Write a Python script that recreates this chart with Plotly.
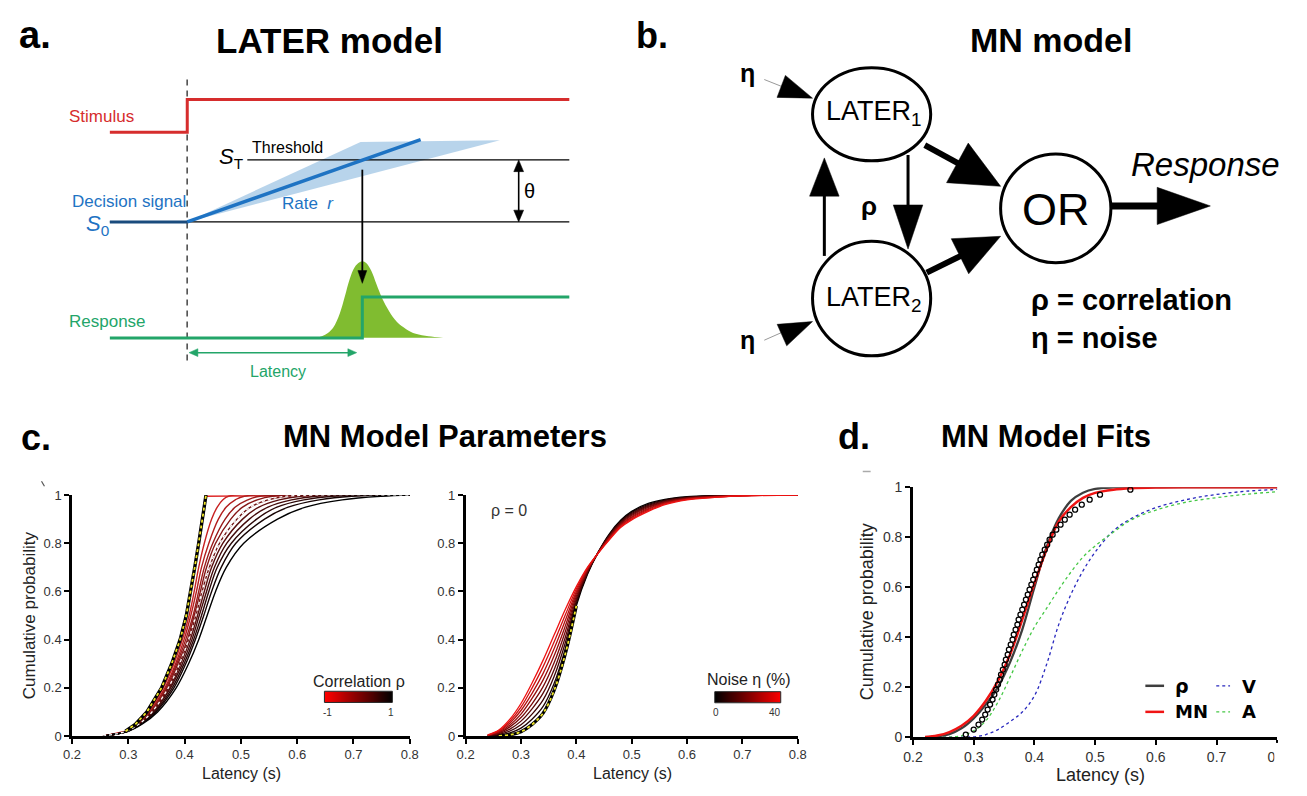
import math
import plotly.graph_objects as go

W, H = 1307, 796
FONT = "Liberation Sans, Arial, sans-serif"
LEGFONT = "DejaVu Sans, Verdana, sans-serif"

# ---------------- data: panel c (left) correlation sweep ----------------
rho_values = [-1.0, -0.8, -0.6, -0.4, -0.2, 0.0, 0.2, 0.4, 0.6, 0.8, 1.0]
cdf_levels = [0, 0.02, 0.05, 0.1, 0.2, 0.3, 0.4, 0.5, 0.6, 0.7, 0.8, 0.9, 0.95, 0.98, 0.995]
lat_rho = [
    [0.255, 0.295, 0.313, 0.333, 0.359, 0.377, 0.392, 0.403, 0.411, 0.418, 0.425, 0.431, 0.434, 0.436, 0.437],
    [0.255, 0.296, 0.315, 0.335, 0.362, 0.381, 0.396, 0.408, 0.417, 0.425, 0.435, 0.448, 0.458, 0.468, 0.478],
    [0.255, 0.296, 0.316, 0.337, 0.365, 0.384, 0.399, 0.411, 0.421, 0.430, 0.443, 0.460, 0.474, 0.490, 0.506],
    [0.255, 0.297, 0.317, 0.339, 0.367, 0.386, 0.402, 0.415, 0.425, 0.435, 0.450, 0.472, 0.490, 0.512, 0.534],
    [0.255, 0.297, 0.318, 0.340, 0.369, 0.388, 0.405, 0.417, 0.428, 0.439, 0.455, 0.482, 0.503, 0.529, 0.556],
    [0.255, 0.297, 0.319, 0.342, 0.371, 0.391, 0.407, 0.420, 0.431, 0.444, 0.462, 0.493, 0.517, 0.548, 0.581],
    [0.255, 0.298, 0.320, 0.343, 0.373, 0.393, 0.410, 0.423, 0.435, 0.448, 0.468, 0.503, 0.532, 0.568, 0.606],
    [0.255, 0.298, 0.321, 0.345, 0.375, 0.396, 0.413, 0.426, 0.439, 0.453, 0.475, 0.515, 0.548, 0.590, 0.634],
    [0.255, 0.299, 0.322, 0.347, 0.378, 0.399, 0.416, 0.430, 0.443, 0.458, 0.483, 0.528, 0.564, 0.612, 0.662],
    [0.255, 0.299, 0.323, 0.349, 0.381, 0.402, 0.419, 0.434, 0.448, 0.465, 0.491, 0.542, 0.584, 0.639, 0.697],
    [0.255, 0.300, 0.325, 0.352, 0.385, 0.407, 0.425, 0.440, 0.455, 0.474, 0.505, 0.565, 0.615, 0.680, 0.750],
]
lat_end = 0.8

# ---------------- data: panel c (right) noise sweep ----------------
noise_values = [0, 5, 10, 15, 20, 25, 30, 35, 40]
lat_grid = [0.24, 0.26, 0.28, 0.30, 0.32, 0.34, 0.36, 0.38, 0.40, 0.42,
            0.44, 0.46, 0.48, 0.50, 0.53, 0.56, 0.60, 0.65, 0.70, 0.80]
cdf_noise = [
    [0.000, 0.001, 0.005, 0.018, 0.048, 0.095, 0.190, 0.340, 0.540, 0.670, 0.765, 0.840, 0.895, 0.932, 0.965, 0.982, 0.993, 0.998, 1.000, 1.0],
    [0.001, 0.004, 0.013, 0.033, 0.070, 0.123, 0.219, 0.363, 0.550, 0.674, 0.764, 0.837, 0.891, 0.928, 0.961, 0.979, 0.991, 0.997, 1.000, 1.0],
    [0.001, 0.007, 0.021, 0.047, 0.091, 0.150, 0.248, 0.386, 0.560, 0.678, 0.764, 0.834, 0.888, 0.923, 0.957, 0.977, 0.990, 0.996, 0.999, 1.0],
    [0.002, 0.010, 0.029, 0.062, 0.113, 0.178, 0.276, 0.409, 0.570, 0.681, 0.763, 0.831, 0.884, 0.919, 0.953, 0.974, 0.988, 0.995, 0.999, 1.0],
    [0.003, 0.013, 0.038, 0.077, 0.134, 0.205, 0.305, 0.433, 0.580, 0.685, 0.763, 0.828, 0.880, 0.915, 0.949, 0.971, 0.987, 0.994, 0.998, 1.0],
    [0.003, 0.016, 0.046, 0.091, 0.156, 0.233, 0.334, 0.456, 0.590, 0.689, 0.762, 0.824, 0.876, 0.910, 0.944, 0.968, 0.985, 0.993, 0.998, 1.0],
    [0.004, 0.019, 0.054, 0.106, 0.177, 0.260, 0.363, 0.479, 0.600, 0.693, 0.761, 0.821, 0.873, 0.906, 0.940, 0.966, 0.983, 0.992, 0.997, 1.0],
    [0.004, 0.022, 0.062, 0.120, 0.199, 0.288, 0.391, 0.502, 0.610, 0.696, 0.761, 0.818, 0.869, 0.901, 0.936, 0.963, 0.982, 0.991, 0.997, 1.0],
    [0.005, 0.025, 0.070, 0.135, 0.220, 0.315, 0.420, 0.525, 0.620, 0.700, 0.760, 0.815, 0.865, 0.897, 0.932, 0.960, 0.980, 0.990, 0.996, 1.0],
]

# ---------------- data: panel d fits ----------------
fit_lat = [0.22, 0.24, 0.26, 0.28, 0.30, 0.32, 0.34, 0.36, 0.38, 0.40, 0.42,
           0.44, 0.46, 0.48, 0.50, 0.53, 0.56, 0.60, 0.65, 0.70, 0.75, 0.80]
rho_fit = [0.0, 0.003, 0.012, 0.035, 0.075, 0.130, 0.200, 0.300, 0.430, 0.600, 0.760,
           0.875, 0.945, 0.978, 0.993, 0.999, 1.0, 1.0, 1.0, 1.0, 1.0, 1.0]
mn_fit = [0.0, 0.006, 0.020, 0.045, 0.085, 0.145, 0.225, 0.330, 0.470, 0.615, 0.750,
          0.862, 0.920, 0.957, 0.977, 0.990, 0.996, 0.999, 1.0, 1.0, 1.0, 1.0]
v_fit = [0.0, 0.0, 0.0, 0.0, 0.001, 0.010, 0.030, 0.062, 0.100, 0.165, 0.290,
         0.450, 0.570, 0.665, 0.740, 0.825, 0.875, 0.918, 0.950, 0.971, 0.984, 0.991]
a_fit = [0.0, 0.0, 0.0, 0.005, 0.025, 0.065, 0.140, 0.240, 0.345, 0.440, 0.515,
         0.590, 0.660, 0.720, 0.765, 0.820, 0.870, 0.908, 0.940, 0.958, 0.972, 0.982]
obs_cdf = [0.01, 0.03, 0.05, 0.07, 0.09, 0.11, 0.13, 0.15, 0.17, 0.19, 0.21, 0.23, 0.25,
           0.27, 0.29, 0.31, 0.33, 0.35, 0.37, 0.39, 0.41, 0.43, 0.45, 0.47, 0.49, 0.51,
           0.53, 0.55, 0.57, 0.59, 0.61, 0.63, 0.65, 0.67, 0.69, 0.71, 0.73, 0.75, 0.77,
           0.79, 0.81, 0.83, 0.85, 0.87, 0.89, 0.91, 0.93, 0.95, 0.97, 0.99]
obs_lat = [0.287, 0.300, 0.308, 0.314, 0.319, 0.323, 0.327, 0.331, 0.334, 0.337, 0.340,
           0.343, 0.345, 0.348, 0.351, 0.353, 0.356, 0.358, 0.361, 0.364, 0.366, 0.369,
           0.372, 0.374, 0.377, 0.380, 0.383, 0.386, 0.389, 0.392, 0.395, 0.398, 0.401,
           0.404, 0.407, 0.410, 0.413, 0.417, 0.421, 0.425, 0.430, 0.436, 0.443, 0.450,
           0.458, 0.467, 0.478, 0.491, 0.508, 0.558]

x_ticks = [0.2, 0.3, 0.4, 0.5, 0.6, 0.7, 0.8]
x_ticktext = ["0.2", "0.3", "0.4", "0.5", "0.6", "0.7", "0.8"]
y_ticks = [0, 0.2, 0.4, 0.6, 0.8, 1.0]
y_ticktext = ["0", "0.2", "0.4", "0.6", "0.8", "1"]

# ---------------- helpers ----------------
def dom_x(a, b):
    return [a / W, b / W]

def dom_y(top, bottom):
    return [1 - bottom / H, 1 - top / H]

shapes = []
annotations = []

def seg(x0, y0, x1, y1, color="black", width=1.5, dash=None):
    ln = dict(color=color, width=width)
    if dash:
        ln["dash"] = dash
    shapes.append(dict(type="line", xref="x", yref="y", x0=x0, y0=y0, x1=x1, y1=y1, line=ln))

def poly(pts, color, close=True, width=0.5, fill=True):
    path = "M " + " L ".join(f"{x:.2f},{y:.2f}" for x, y in pts) + (" Z" if close else "")
    d = dict(type="path", xref="x", yref="y", path=path, line=dict(color=color, width=width))
    if fill:
        d["fillcolor"] = color
    shapes.append(d)

def head(tail, tip, head_len, head_hw, color="black"):
    dx, dy = tip[0] - tail[0], tip[1] - tail[1]
    L = math.hypot(dx, dy)
    ux, uy = dx / L, dy / L
    bx, by = tip[0] - ux * head_len, tip[1] - uy * head_len
    nx, ny = -uy, ux
    poly([tip, (bx + nx * head_hw, by + ny * head_hw), (bx - nx * head_hw, by - ny * head_hw)], color)
    return bx + ux, by + uy

def arrow(tail, tip, width, head_len, head_hw, color="black"):
    bx, by = head(tail, tip, head_len, head_hw, color)
    seg(tail[0], tail[1], bx, by, color, width)

def text(x, y, s, size, color="black", bold=False, family=FONT, xanchor="center", angle=0):
    if bold:
        s = f"<b>{s}</b>"
    annotations.append(dict(xref="x", yref="y", x=x, y=y, text=s, showarrow=False,
                            font=dict(family=family, size=size, color=color),
                            xanchor=xanchor, yanchor="middle", textangle=angle))

fig = go.Figure()

# ---------------- panel a: LATER diagram ----------------
RED = "rgb(214,45,45)"
BLUE = "rgb(30,115,195)"
LBLUE = "rgba(172,205,232,0.85)"
GREEN = "rgb(35,165,105)"
BELL = "rgb(128,188,48)"

fig.add_trace(go.Scatter(x=[180, 356, 497.5, 180], y=[218.3, 136.7, 135, 218.3], mode="lines",
                         fill="toself", fillcolor=LBLUE, line=dict(width=0), hoverinfo="skip",
                         xaxis="x", yaxis="y"))
bell_x = [312, 320, 328, 335, 340, 345, 350, 355, 358, 362, 367, 372, 378, 385, 393, 402, 412, 425, 440]
bell_h = [0, 3, 10, 25, 42, 60, 72, 77, 78, 76, 68, 55, 40, 27, 16, 9, 4, 1.5, 0]
fig.add_trace(go.Scatter(x=bell_x, y=[336.5 - h for h in bell_h], mode="lines", line=dict(width=0, shape="spline"),
                         fill="toself", fillcolor=BELL, hoverinfo="skip", xaxis="x", yaxis="y"))

seg(179.9, 73, 179.9, 362, "#444", 1.5, "6px,5px")
poly([(101.4, 126.7), (180, 126.7), (180, 93.3), (568, 93.3)], RED, close=False, width=3, fill=False)
seg(241, 155, 568, 155, "black", 1.2)
seg(101.4, 218.3, 568, 218.3, "black", 1.2)
seg(101.4, 218.3, 180, 218.3, "rgb(25,75,125)", 3)
seg(180, 218.3, 417, 134.3, BLUE, 3.5)
arrow((357.8, 165), (357.8, 281), 1.8, 13, 4.5)
bx, by = head((516.6, 190), (516.6, 155), 12, 5)
bx2, by2 = head((516.6, 190), (516.6, 218.3), 12, 5)
seg(516.6, by, 516.6, by2, "black", 1.6)
poly([(101.4, 336.7), (357.8, 336.7), (357.8, 295), (568, 295)], GREEN, close=False, width=3, fill=False)
lx, ly = head((270, 351.7), (181.8, 351.7), 9, 4, GREEN)
lx2, ly2 = head((270, 351.7), (352.1, 351.7), 9, 4, GREEN)
seg(lx, 351.7, lx2, 351.7, GREEN, 1.5)

text(25, 28, "a.", 38, bold=True)
text(324, 33, "LATER model", 35, bold=True)
text(93, 111, "Stimulus", 17, RED)
text(225, 153, "<i>S</i><sub>T</sub>", 22)
text(282, 142, "Threshold", 16)
text(121, 197, "Decision signal", 17, BLUE)
text(89, 221, "<i>S</i><sub>0</sub>", 22, BLUE)
text(303, 199, "Rate  <i>r</i>", 17, BLUE)
text(528, 187, "θ", 20)
text(99, 320, "Response", 17, GREEN)
text(272, 371, "Latency", 16, GREEN)

# ---------------- panel b: MN diagram ----------------
for (x0, y0, x1, y1) in [(815, 61, 935, 156), (815, 238, 935, 355), (1006, 149, 1118, 260)]:
    shapes.append(dict(type="circle", xref="x", yref="y", x0=x0, y0=y0, x1=x1, y1=y1,
                       line=dict(color="black", width=3), fillcolor="white"))
text(877, 107, "LATER<sub>1</sub>", 27, family="Liberation Sans, Arial")
text(877, 297, "LATER<sub>2</sub>", 27, family="Liberation Sans, Arial")
text(1062, 206, "OR", 45)
text(749, 66, "η", 25, bold=True)
text(749, 339, "η", 25, bold=True)
seg(766, 73, 786, 81, "#999", 1)
head((770, 75), (815, 92), 34, 12)
seg(766, 339, 784, 331, "#999", 1)
head((770, 340), (815, 320), 34, 12)
arrow((929, 140), (1006, 182), 6, 50, 23)
arrow((931, 270), (1006, 233), 6, 46, 20)
arrow((912, 150), (912, 246), 3, 45, 15)
arrow((827, 253), (827, 153), 3, 39, 15)
arrow((1118, 202), (1219, 202), 7, 54, 19)
text(872, 202, "ρ", 26, bold=True)
text(1214, 160, "<i>Response</i>", 33)
text(1035, 298, "ρ = correlation", 29, bold=True, xanchor="left")
text(1035, 337, "η = noise", 29, bold=True, xanchor="left")
text(652, 28, "b.", 36, bold=True)
text(1057, 33, "MN model", 34, bold=True)

# ---------------- panel c (left) ----------------
for i, rho in enumerate(rho_values):
    t = (rho + 1) / 2
    col = f"rgb({round(222 * (1 - t))},{round(38 * (1 - t))},{round(38 * (1 - t))})"
    fig.add_trace(go.Scatter(x=lat_rho[i] + [lat_end], y=cdf_levels + [1.0], mode="lines",
                             line=dict(color=col, width=1.4, shape="linear" if i == 0 else "spline"),
                             xaxis="x2", yaxis="y2", hoverinfo="skip"))
mid = rho_values.index(0.0)
fig.add_trace(go.Scatter(x=lat_rho[mid] + [lat_end], y=cdf_levels + [1.0], mode="lines",
                         line=dict(color="white", width=1.3, dash="dot", shape="spline"),
                         xaxis="x2", yaxis="y2", hoverinfo="skip"))
fig.add_trace(go.Scatter(x=lat_rho[0][1:] + [0.438], y=cdf_levels[1:] + [1.0], mode="lines",
                         line=dict(color="black", width=3.4), xaxis="x2", yaxis="y2", hoverinfo="skip"))
fig.add_trace(go.Scatter(x=lat_rho[0][1:] + [0.438], y=cdf_levels[1:] + [1.0], mode="lines",
                         line=dict(color="rgb(240,230,40)", width=1.8, dash="3px,3px"),
                         xaxis="x2", yaxis="y2", hoverinfo="skip"))

# ---------------- panel c (right) ----------------
for i, nz in enumerate(noise_values):
    t = nz / 40
    col = f"rgb({round(238 * t)},{round(18 * t)},{round(18 * t)})"
    fig.add_trace(go.Scatter(x=lat_grid, y=cdf_noise[i], mode="lines",
                             line=dict(color=col, width=1.3, shape="spline"),
                             xaxis="x3", yaxis="y3", hoverinfo="skip"))
fig.add_trace(go.Scatter(x=lat_grid[1:9], y=cdf_noise[0][1:9], mode="lines",
                         line=dict(color="black", width=3.2, shape="spline"),
                         xaxis="x3", yaxis="y3", hoverinfo="skip"))
fig.add_trace(go.Scatter(x=lat_grid[1:9], y=cdf_noise[0][1:9], mode="lines",
                         line=dict(color="rgb(240,230,40)", width=1.8, dash="3px,3px", shape="spline"),
                         xaxis="x3", yaxis="y3", hoverinfo="skip"))

# colour bars
fig.add_trace(go.Heatmap(z=[rho_values], x=rho_values, y=[0],
                         colorscale=[[0, "rgb(255,0,0)"], [1, "rgb(0,0,0)"]], showscale=False,
                         zsmooth="best", xaxis="x5", yaxis="y5", hoverinfo="skip"))
fig.add_trace(go.Heatmap(z=[noise_values], x=noise_values, y=[0],
                         colorscale=[[0, "rgb(0,0,0)"], [1, "rgb(255,0,0)"]], showscale=False,
                         zsmooth="best", xaxis="x6", yaxis="y6", hoverinfo="skip"))
shapes.append(dict(type="rect", xref="x", yref="y", x0=319.3, y0=697.3, x1=388.3, y1=708.7,
                   line=dict(color="#222", width=1)))
shapes.append(dict(type="rect", xref="x", yref="y", x0=715.7, y0=697.7, x1=782.7, y1=709,
                   line=dict(color="#222", width=1)))

# ---------------- panel d ----------------
GRAY = "rgb(62,62,62)"
RED2 = "rgb(240,20,20)"
VBLUE = "rgb(40,40,190)"
AGREEN = "rgb(70,200,70)"
fig.add_trace(go.Scatter(x=fit_lat, y=v_fit, mode="lines", line=dict(color=VBLUE, width=1.3, dash="dot", shape="spline"),
                         xaxis="x4", yaxis="y4", hoverinfo="skip"))
fig.add_trace(go.Scatter(x=fit_lat, y=a_fit, mode="lines", line=dict(color=AGREEN, width=1.3, dash="dot", shape="spline"),
                         xaxis="x4", yaxis="y4", hoverinfo="skip"))
fig.add_trace(go.Scatter(x=fit_lat, y=rho_fit, mode="lines", line=dict(color=GRAY, width=2.3, shape="spline"),
                         xaxis="x4", yaxis="y4", hoverinfo="skip"))
fig.add_trace(go.Scatter(x=fit_lat, y=mn_fit, mode="lines", line=dict(color=RED2, width=2.5, shape="spline"),
                         xaxis="x4", yaxis="y4", hoverinfo="skip"))
fig.add_trace(go.Scatter(x=obs_lat, y=obs_cdf, mode="markers",
                         marker=dict(symbol="circle-open", size=5, color="black", line=dict(width=1.3)),
                         xaxis="x4", yaxis="y4", hoverinfo="skip"))

# legend (panel d)
seg(1153, 691.7, 1172, 691.7, GRAY, 2.5)
seg(1153, 718.3, 1172, 718.3, RED2, 2.5)
seg(1225, 691.7, 1239, 691.7, VBLUE, 1.3, "dot")
seg(1225, 718.3, 1239, 718.3, AGREEN, 1.3, "dot")
text(1181, 692, "ρ", 19, bold=True, family=LEGFONT, xanchor="left")
text(1181, 718, "MN", 18, bold=True, family=LEGFONT, xanchor="left")
text(1249, 692, "V", 18, bold=True, family=LEGFONT, xanchor="left")
text(1249, 718, "A", 18, bold=True, family=LEGFONT, xanchor="left")

# ---------------- panel c/d texts ----------------
text(26, 438, "c.", 36, bold=True)
text(442, 437, "MN Model Parameters", 31, bold=True)
text(857, 437, "d.", 36, bold=True)
text(1052, 437, "MN Model Fits", 31, bold=True)
text(20, 620, "Cumulative probability", 17, "#222", angle=-90)
text(870, 616, "Cumulative probability", 18, "#222", angle=-90)
text(235, 781, "Latency (s)", 16, "#222")
text(632, 781, "Latency (s)", 16, "#222")
text(1107, 783, "Latency (s)", 18, "#222")
text(354, 687, "Correlation ρ", 16, "#222")
text(322, 719, "-1", 10, "#333")
text(387, 719, "1", 10, "#333")
text(750, 685, "Noise η (%)", 16, "#222")
text(717, 719, "0", 10, "#333")
text(777, 719, "40", 10, "#333")
text(507, 513, "ρ = 0", 16, "#333")

# small artefacts
seg(32, 483, 35, 488, "#555", 1.2)
seg(866, 473, 874, 473, "#aaa", 1.5)
# clip of right-most tick label in panel d
shapes.append(dict(type="rect", xref="x", yref="y", x0=1284, y0=750, x1=W, y1=776,
                   line=dict(width=0), fillcolor="white", layer="above"))

# ---------------- layout ----------------
def panel_axis(domain, anchor, vals, txt, rng, size):
    return dict(domain=domain, anchor=anchor, range=rng, showline=True, linecolor="black", linewidth=2.5,
                ticks="outside", ticklen=5, tickwidth=2, tickcolor="black", showgrid=False, zeroline=False,
                tickvals=vals, ticktext=txt, tickfont=dict(family=FONT, size=size, color="#333"),
                fixedrange=True)

hidden = dict(visible=False, fixedrange=True, showgrid=False, zeroline=False)

fig.update_layout(
    width=W, height=H, margin=dict(l=0, r=0, t=0, b=0),
    paper_bgcolor="white", plot_bgcolor="rgba(0,0,0,0)", showlegend=False,
    xaxis=dict(domain=[0, 1], range=[0, W], anchor="y", **hidden),
    yaxis=dict(domain=[0, 1], range=[H, 0], anchor="x", **hidden),
    xaxis2=panel_axis(dom_x(63, 406), "y2", x_ticks, x_ticktext, [0.2, 0.8], 13),
    yaxis2=panel_axis(dom_y(497, 743), "x2", y_ticks, y_ticktext, [0, 1], 13),
    xaxis3=panel_axis(dom_x(462.7, 800), "y3", x_ticks, x_ticktext, [0.2, 0.8], 13),
    yaxis3=panel_axis(dom_y(497, 743), "x3", y_ticks, y_ticktext, [0, 1], 13),
    xaxis4=panel_axis(dom_x(917, 1287), "y4", x_ticks, x_ticktext, [0.2, 0.8], 14),
    yaxis4=panel_axis(dom_y(489, 744), "x4", y_ticks, y_ticktext, [0, 1], 14),
    xaxis5=dict(domain=dom_x(319.3, 388.3), anchor="y5", range=[-1, 1], **hidden),
    yaxis5=dict(domain=dom_y(697.3, 708.7), anchor="x5", range=[-0.5, 0.5], **hidden),
    xaxis6=dict(domain=dom_x(715.7, 782.7), anchor="y6", range=[0, 40], **hidden),
    yaxis6=dict(domain=dom_y(697.7, 709), anchor="x6", range=[-0.5, 0.5], **hidden),
    shapes=shapes, annotations=annotations,
)

fig.write_html("out.html")
